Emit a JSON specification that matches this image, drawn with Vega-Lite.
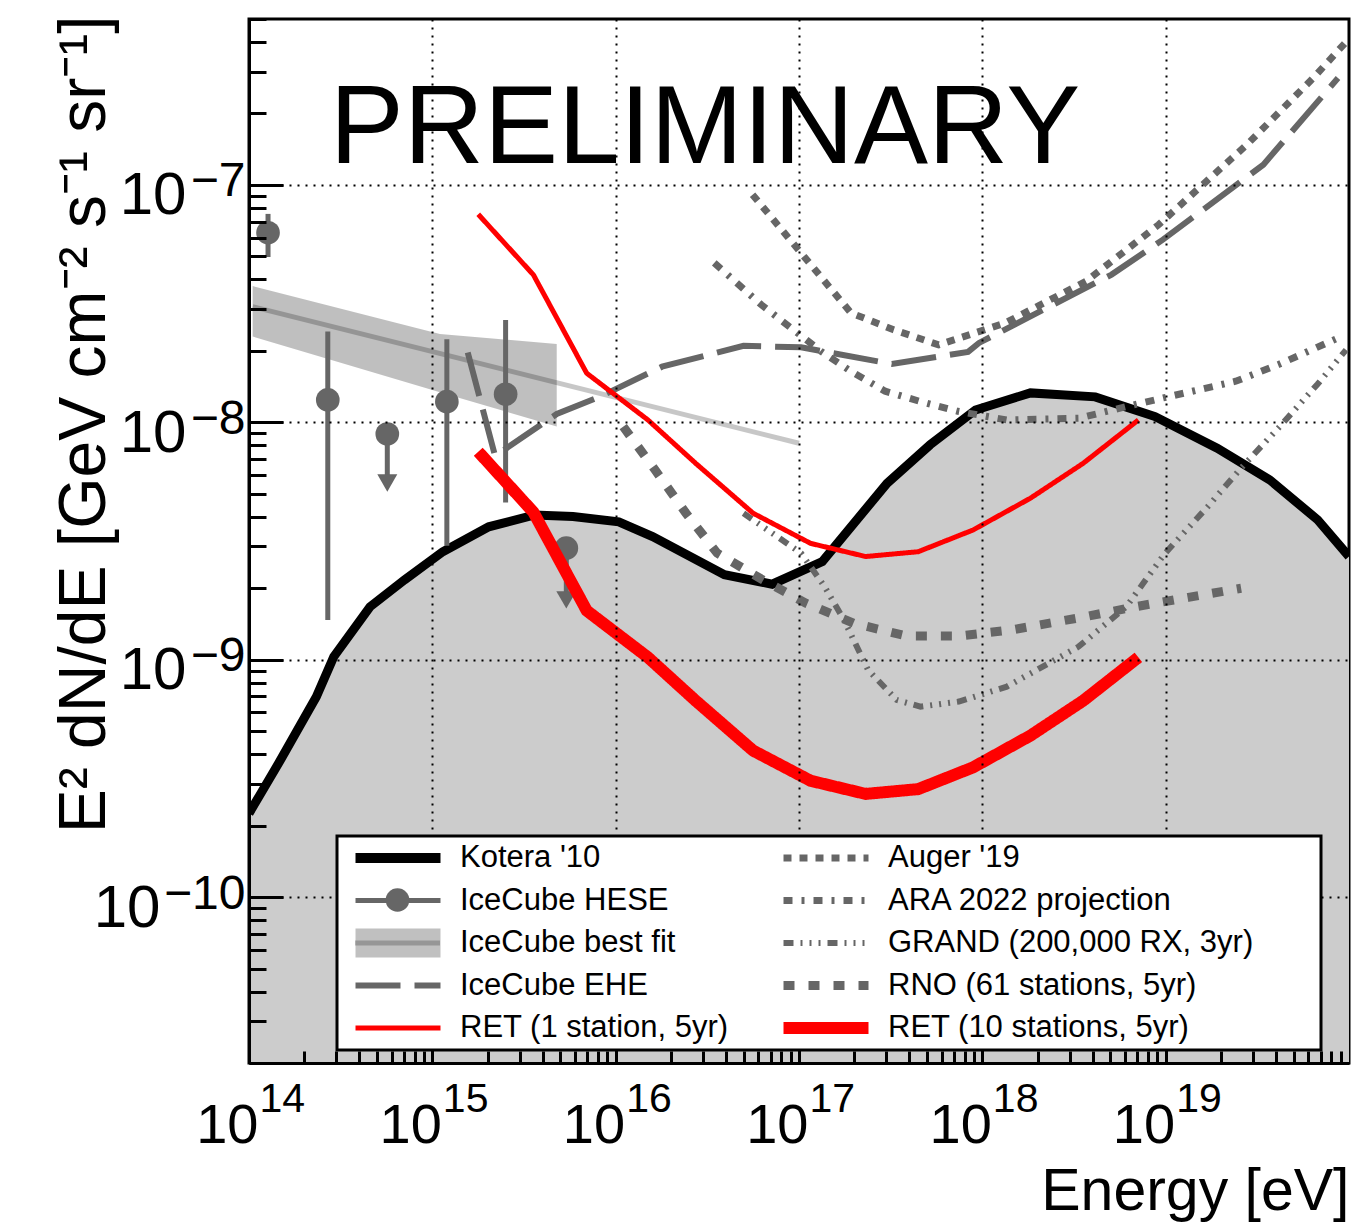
{
  "$schema": "https://vega.github.io/schema/vega-lite/v6.json",
  "width": 1100,
  "height": 1044,
  "autosize": {"type": "none"},
  "padding": {"left": 249, "top": 19, "right": 18, "bottom": 160},
  "background": "white",
  "config": {
    "font": "Liberation Sans",
    "view": {"stroke": "black", "strokeWidth": 3},
    "legend": {
      "orient": "none",
      "legendX": 88,
      "legendY": 817,
      "columns": 2,
      "symbolType": "stroke",
      "symbolSize": 7225,
      "symbolOpacity": 1,
      "clipHeight": 36,
      "rowPadding": 6.5,
      "columnPadding": 40,
      "labelFont": "Liberation Sans",
      "labelFontSize": 31,
      "labelColor": "black",
      "labelLimit": 600,
      "labelOffset": 5,
      "padding": 4,
      "strokeColor": "black",
      "fillColor": "white",
      "strokeWidth": 3,
      "titleOrient": "right",
      "titleFontSize": 2,
      "titlePadding": 64
    }
  },
  "resolve": {"axis": {"x": "independent", "y": "independent"}},
  "datasets": {
    "kotera": [
      {"E": 1e14, "F": 2.25e-10}, {"E": 1.45e14, "F": 3.66e-10}, {"E": 2.33e14, "F": 6.98e-10},
      {"E": 2.9e14, "F": 1.03e-9}, {"E": 4.57e14, "F": 1.67e-9}, {"E": 7.06e14, "F": 2.17e-9},
      {"E": 1.14e15, "F": 2.85e-9}, {"E": 2.03e15, "F": 3.63e-9}, {"E": 3.61e15, "F": 4.07e-9},
      {"E": 5.85e15, "F": 4.01e-9}, {"E": 1.04e16, "F": 3.81e-9}, {"E": 1.59e16, "F": 3.3e-9},
      {"E": 3.92e16, "F": 2.28e-9}, {"E": 7.14e16, "F": 2.08e-9}, {"E": 1.34e17, "F": 2.59e-9},
      {"E": 3.02e17, "F": 5.53e-9}, {"E": 5.19e17, "F": 8.04e-9}, {"E": 9.18e17, "F": 1.127e-8},
      {"E": 1.83e18, "F": 1.33e-8}, {"E": 4.13e18, "F": 1.28e-8}, {"E": 8.75e18, "F": 1.057e-8},
      {"E": 1.91e19, "F": 7.78e-9}, {"E": 3.71e19, "F": 5.71e-9}, {"E": 6.75e19, "F": 3.88e-9},
      {"E": 1e20, "F": 2.72e-9}
    ],
    "band": [
      {"E": 1.047e14, "lo": 2.296e-8, "hi": 3.75e-8},
      {"E": 1.1e15, "lo": 1.34e-8, "hi": 2.355e-8},
      {"E": 4.77e15, "lo": 9.59e-9, "hi": 2.138e-8}
    ],
    "fit": [
      {"s": "IceCube best fit", "E": 1.047e14, "F": 3.07e-8},
      {"s": "IceCube best fit", "E": 1e17, "F": 8.16e-9}
    ],
    "hese": [
      {"s": "IceCube HESE", "E": 1.27e14, "F": 6.29e-8, "lo": 4.97e-8, "hi": 7.55e-8, "ul": false},
      {"s": "IceCube HESE", "E": 2.69e14, "F": 1.243e-8, "lo": 1.47e-9, "hi": 2.41e-8, "ul": false},
      {"s": "IceCube HESE", "E": 5.68e14, "F": 8.93e-9, "lo": 5.55e-9, "hi": 8.93e-9, "ul": true},
      {"s": "IceCube HESE", "E": 1.2e15, "F": 1.222e-8, "lo": 3.02e-9, "hi": 2.24e-8, "ul": false},
      {"s": "IceCube HESE", "E": 2.51e15, "F": 1.313e-8, "lo": 4.59e-9, "hi": 2.7e-8, "ul": false},
      {"s": "IceCube HESE", "E": 5.38e15, "F": 2.95e-9, "lo": 1.785e-9, "hi": 2.95e-9, "ul": true}
    ],
    "gray": [
      {"s": "IceCube EHE", "E": 1.56e15, "F": 1.97e-8},
      {"s": "IceCube EHE", "E": 2.2e15, "F": 7.21e-9},
      {"s": "IceCube EHE", "E": 4.77e15, "F": 1.084e-8},
      {"s": "IceCube EHE", "E": 8.22e15, "F": 1.282e-8},
      {"s": "IceCube EHE", "E": 1.79e16, "F": 1.715e-8},
      {"s": "IceCube EHE", "E": 4.98e16, "F": 2.1e-8},
      {"s": "IceCube EHE", "E": 1.026e17, "F": 2.07e-8},
      {"s": "IceCube EHE", "E": 3.21e17, "F": 1.762e-8},
      {"s": "IceCube EHE", "E": 8.36e17, "F": 1.98e-8},
      {"s": "IceCube EHE", "E": 9.59e17, "F": 2.16e-8},
      {"s": "IceCube EHE", "E": 5.07e18, "F": 4.19e-8},
      {"s": "IceCube EHE", "E": 9.66e18, "F": 5.88e-8},
      {"s": "IceCube EHE", "E": 3.41e19, "F": 1.217e-7},
      {"s": "IceCube EHE", "E": 8.71e19, "F": 2.82e-7},
      {"s": "Auger '19", "E": 5.58e16, "F": 9.1e-8},
      {"s": "Auger '19", "E": 1.92e17, "F": 2.89e-8},
      {"s": "Auger '19", "E": 3.28e17, "F": 2.455e-8},
      {"s": "Auger '19", "E": 5.77e17, "F": 2.12e-8},
      {"s": "Auger '19", "E": 1.33e18, "F": 2.62e-8},
      {"s": "Auger '19", "E": 3.68e18, "F": 3.93e-8},
      {"s": "Auger '19", "E": 9.16e18, "F": 6.8e-8},
      {"s": "Auger '19", "E": 2.77e19, "F": 1.477e-7},
      {"s": "Auger '19", "E": 6.38e19, "F": 2.82e-7},
      {"s": "Auger '19", "E": 9.51e19, "F": 3.96e-7},
      {"s": "ARA 2022 projection", "E": 3.45e16, "F": 4.69e-8},
      {"s": "ARA 2022 projection", "E": 6.22e16, "F": 3.13e-8},
      {"s": "ARA 2022 projection", "E": 1.32e17, "F": 1.99e-8},
      {"s": "ARA 2022 projection", "E": 1.92e17, "F": 1.64e-8},
      {"s": "ARA 2022 projection", "E": 2.95e17, "F": 1.352e-8},
      {"s": "ARA 2022 projection", "E": 4.53e17, "F": 1.227e-8},
      {"s": "ARA 2022 projection", "E": 7.35e17, "F": 1.113e-8},
      {"s": "ARA 2022 projection", "E": 1.36e18, "F": 1.023e-8},
      {"s": "ARA 2022 projection", "E": 3.35e18, "F": 1.04e-8},
      {"s": "ARA 2022 projection", "E": 6.1e18, "F": 1.164e-8},
      {"s": "ARA 2022 projection", "E": 9.66e18, "F": 1.266e-8},
      {"s": "ARA 2022 projection", "E": 2.41e19, "F": 1.489e-8},
      {"s": "ARA 2022 projection", "E": 4.12e19, "F": 1.75e-8},
      {"s": "ARA 2022 projection", "E": 8.71e19, "F": 2.265e-8},
      {"s": "GRAND (200,000 RX, 3yr)", "E": 4.98e16, "F": 4.14e-9},
      {"s": "GRAND (200,000 RX, 3yr)", "E": 1.026e17, "F": 2.81e-9},
      {"s": "GRAND (200,000 RX, 3yr)", "E": 1.38e17, "F": 2.03e-9},
      {"s": "GRAND (200,000 RX, 3yr)", "E": 1.76e17, "F": 1.47e-9},
      {"s": "GRAND (200,000 RX, 3yr)", "E": 2.38e17, "F": 9.05e-10},
      {"s": "GRAND (200,000 RX, 3yr)", "E": 3.41e17, "F": 6.77e-10},
      {"s": "GRAND (200,000 RX, 3yr)", "E": 4.6e17, "F": 6.34e-10},
      {"s": "GRAND (200,000 RX, 3yr)", "E": 7.45e17, "F": 6.66e-10},
      {"s": "GRAND (200,000 RX, 3yr)", "E": 1.36e18, "F": 7.7e-10},
      {"s": "GRAND (200,000 RX, 3yr)", "E": 3.35e18, "F": 1.135e-9},
      {"s": "GRAND (200,000 RX, 3yr)", "E": 6.1e18, "F": 1.673e-9},
      {"s": "GRAND (200,000 RX, 3yr)", "E": 9.86e18, "F": 2.79e-9},
      {"s": "GRAND (200,000 RX, 3yr)", "E": 1.69e19, "F": 4.4e-9},
      {"s": "GRAND (200,000 RX, 3yr)", "E": 2.58e19, "F": 6.42e-9},
      {"s": "GRAND (200,000 RX, 3yr)", "E": 4.17e19, "F": 9.56e-9},
      {"s": "GRAND (200,000 RX, 3yr)", "E": 6.75e19, "F": 1.45e-8},
      {"s": "GRAND (200,000 RX, 3yr)", "E": 9.64e19, "F": 2.02e-8},
      {"s": "RNO (61 stations, 5yr)", "E": 1.1e16, "F": 9.59e-9},
      {"s": "RNO (61 stations, 5yr)", "E": 1.64e16, "F": 6.3e-9},
      {"s": "RNO (61 stations, 5yr)", "E": 2.42e16, "F": 4.14e-9},
      {"s": "RNO (61 stations, 5yr)", "E": 3.58e16, "F": 2.81e-9},
      {"s": "RNO (61 stations, 5yr)", "E": 6.34e16, "F": 2.17e-9},
      {"s": "RNO (61 stations, 5yr)", "E": 1.09e17, "F": 1.73e-9},
      {"s": "RNO (61 stations, 5yr)", "E": 1.99e17, "F": 1.424e-9},
      {"s": "RNO (61 stations, 5yr)", "E": 3.84e17, "F": 1.259e-9},
      {"s": "RNO (61 stations, 5yr)", "E": 7.45e17, "F": 1.259e-9},
      {"s": "RNO (61 stations, 5yr)", "E": 1.44e18, "F": 1.334e-9},
      {"s": "RNO (61 stations, 5yr)", "E": 3.66e18, "F": 1.518e-9},
      {"s": "RNO (61 stations, 5yr)", "E": 6.88e18, "F": 1.673e-9},
      {"s": "RNO (61 stations, 5yr)", "E": 1.33e19, "F": 1.83e-9},
      {"s": "RNO (61 stations, 5yr)", "E": 2.58e19, "F": 2.0e-9}
    ],
    "red": [
      {"s": "RET (1 station, 5yr)", "E": 1.78e15, "F": 7.52e-8},
      {"s": "RET (1 station, 5yr)", "E": 3.56e15, "F": 4.18e-8},
      {"s": "RET (1 station, 5yr)", "E": 6.95e15, "F": 1.61e-8},
      {"s": "RET (1 station, 5yr)", "E": 1.5e16, "F": 1.023e-8},
      {"s": "RET (1 station, 5yr)", "E": 2.73e16, "F": 6.72e-9},
      {"s": "RET (1 station, 5yr)", "E": 5.62e16, "F": 4.14e-9},
      {"s": "RET (1 station, 5yr)", "E": 1.157e17, "F": 3.09e-9},
      {"s": "RET (1 station, 5yr)", "E": 2.31e17, "F": 2.72e-9},
      {"s": "RET (1 station, 5yr)", "E": 4.47e17, "F": 2.85e-9},
      {"s": "RET (1 station, 5yr)", "E": 8.91e17, "F": 3.52e-9},
      {"s": "RET (1 station, 5yr)", "E": 1.83e18, "F": 4.79e-9},
      {"s": "RET (1 station, 5yr)", "E": 3.55e18, "F": 6.72e-9},
      {"s": "RET (1 station, 5yr)", "E": 7.1e18, "F": 1.023e-8},
      {"s": "RET (10 stations, 5yr)", "E": 1.78e15, "F": 7.52e-9},
      {"s": "RET (10 stations, 5yr)", "E": 3.56e15, "F": 4.18e-9},
      {"s": "RET (10 stations, 5yr)", "E": 6.95e15, "F": 1.61e-9},
      {"s": "RET (10 stations, 5yr)", "E": 1.5e16, "F": 1.023e-9},
      {"s": "RET (10 stations, 5yr)", "E": 2.73e16, "F": 6.72e-10},
      {"s": "RET (10 stations, 5yr)", "E": 5.62e16, "F": 4.14e-10},
      {"s": "RET (10 stations, 5yr)", "E": 1.157e17, "F": 3.09e-10},
      {"s": "RET (10 stations, 5yr)", "E": 2.31e17, "F": 2.72e-10},
      {"s": "RET (10 stations, 5yr)", "E": 4.47e17, "F": 2.85e-10},
      {"s": "RET (10 stations, 5yr)", "E": 8.91e17, "F": 3.52e-10},
      {"s": "RET (10 stations, 5yr)", "E": 1.83e18, "F": 4.79e-10},
      {"s": "RET (10 stations, 5yr)", "E": 3.55e18, "F": 6.72e-10},
      {"s": "RET (10 stations, 5yr)", "E": 7.1e18, "F": 1.023e-9}
    ]
  },
  "layer": [
    {
      "data": {"name": "kotera"},
      "mark": {"type": "area", "fill": "#cccccc", "clip": true},
      "encoding": {
        "x": {
          "field": "E", "type": "quantitative",
          "scale": {"type": "log", "domain": [1e14, 1e20], "nice": false},
          "axis": {
            "orient": "bottom",
            "values": [1e14, 1e15, 1e16, 1e17, 1e18, 1e19],
            "labelExpr": "'10'",
            "tickSize": -24,
            "tickWidth": 3,
            "tickColor": "black",
            "grid": true,
            "gridColor": "black",
            "gridDash": [2, 6],
            "gridWidth": 2,
            "domain": true,
            "domainColor": "black",
            "domainWidth": 3,
            "labelFont": "Liberation Sans",
            "labelFontSize": 56,
            "labelColor": "black",
            "labelAlign": "right",
            "labelOffset": 9,
            "labelBaseline": "alphabetic",
            "labelPadding": 103,
            "labelOverlap": false,
            "labelFlush": false,
            "labelBound": false,
            "title": "Energy [eV]",
            "titleFont": "Liberation Sans",
            "titleFontSize": 59,
            "titleFontWeight": "normal",
            "titleColor": "black",
            "titleX": 1100,
            "titleY": 146.5,
            "titleAlign": "right",
            "titleBaseline": "alphabetic",
            "zindex": 1
          }
        },
        "y": {
          "field": "F", "type": "quantitative",
          "scale": {"type": "log", "domain": [2e-11, 5e-7], "nice": false},
          "axis": {
            "orient": "left",
            "values": [1e-10, 1e-9, 1e-8, 1e-7],
            "labelExpr": "datum.value < 5e-10 ? '' : '10'",
            "tickSize": -34,
            "tickWidth": 3,
            "tickColor": "black",
            "grid": true,
            "gridColor": "black",
            "gridDash": [2, 6],
            "gridWidth": 2,
            "domain": true,
            "domainColor": "black",
            "domainWidth": 3,
            "labelFont": "Liberation Sans",
            "labelFontSize": 60,
            "labelColor": "black",
            "labelAlign": "right",
            "labelBaseline": "alphabetic",
            "labelOffset": 29,
            "labelPadding": 97,
            "labelOverlap": false,
            "labelFlush": false,
            "labelBound": false,
            "title": "E² dN/dE [GeV cm⁻² s⁻¹ sr⁻¹]",
            "titleFont": "Liberation Sans",
            "titleFontSize": 66,
            "titleFontWeight": "normal",
            "titleColor": "black",
            "titleAngle": -90,
            "titleX": -145,
            "titleY": -4,
            "titleAlign": "right",
            "titleBaseline": "alphabetic",
            "zindex": 1
          }
        },
        "y2": {"datum": 2e-11}
      }
    },
    {
      "data": {"name": "kotera"},
      "mark": {"type": "line", "stroke": "black", "strokeWidth": 9, "clip": true},
      "encoding": {
        "x": {
          "field": "E", "type": "quantitative",
          "scale": {"type": "log", "domain": [1e14, 1e20], "nice": false},
          "axis": {
            "orient": "bottom",
            "values": [2e14, 3e14, 4e14, 5e14, 6e14, 7e14, 8e14, 9e14,
                       2e15, 3e15, 4e15, 5e15, 6e15, 7e15, 8e15, 9e15,
                       2e16, 3e16, 4e16, 5e16, 6e16, 7e16, 8e16, 9e16,
                       2e17, 3e17, 4e17, 5e17, 6e17, 7e17, 8e17, 9e17,
                       2e18, 3e18, 4e18, 5e18, 6e18, 7e18, 8e18, 9e18,
                       2e19, 3e19, 4e19, 5e19, 6e19, 7e19, 8e19, 9e19],
            "labels": false,
            "grid": false,
            "domain": false,
            "title": null,
            "tickSize": -12,
            "tickWidth": 3,
            "tickColor": "black",
            "zindex": 1
          }
        },
        "y": {
          "field": "F", "type": "quantitative",
          "scale": {"type": "log", "domain": [2e-11, 5e-7], "nice": false},
          "axis": {
            "orient": "left",
            "values": [2e-11, 3e-11, 4e-11, 5e-11, 6e-11, 7e-11, 8e-11, 9e-11,
                       2e-10, 3e-10, 4e-10, 5e-10, 6e-10, 7e-10, 8e-10, 9e-10,
                       2e-9, 3e-9, 4e-9, 5e-9, 6e-9, 7e-9, 8e-9, 9e-9,
                       2e-8, 3e-8, 4e-8, 5e-8, 6e-8, 7e-8, 8e-8, 9e-8,
                       2e-7, 3e-7, 4e-7, 5e-7],
            "labels": false,
            "grid": false,
            "domain": false,
            "title": null,
            "tickSize": -17,
            "tickWidth": 3,
            "tickColor": "black",
            "zindex": 1
          }
        }
      }
    },
    {
      "data": {"name": "band"},
      "mark": {"type": "area", "fill": "black", "fillOpacity": 0.25, "clip": true},
      "encoding": {
        "x": {
          "field": "E", "type": "quantitative",
          "scale": {"type": "log", "domain": [1e14, 1e20], "nice": false},
          "axis": {
            "orient": "bottom",
            "values": [1e14, 1e15, 1e16, 1e17, 1e18, 1e19],
            "labelExpr": "format(round(log(datum.value)/LN10), 'd')",
            "ticks": false,
            "tickSize": 0,
            "grid": false,
            "domain": false,
            "title": null,
            "labelFont": "Liberation Sans",
            "labelFontSize": 41,
            "labelColor": "black",
            "labelAlign": "left",
            "labelOffset": 10,
            "labelBaseline": "alphabetic",
            "labelPadding": 48,
            "labelOverlap": false,
            "labelFlush": false,
            "labelBound": false,
            "zindex": 1
          }
        },
        "y": {
          "field": "lo", "type": "quantitative",
          "scale": {"type": "log", "domain": [2e-11, 5e-7], "nice": false},
          "axis": {
            "orient": "left",
            "values": [1e-10, 1e-9, 1e-8, 1e-7],
            "labelExpr": "'−' + format(-round(log(datum.value)/LN10), 'd')",
            "ticks": false,
            "tickSize": 0,
            "grid": false,
            "domain": false,
            "title": null,
            "labelFont": "Liberation Sans",
            "labelFontSize": 48,
            "labelColor": "black",
            "labelAlign": "right",
            "labelOffset": 11,
            "labelBaseline": "alphabetic",
            "labelPadding": 4,
            "labelOverlap": false,
            "labelFlush": false,
            "labelBound": false,
            "zindex": 1
          }
        },
        "y2": {"field": "hi"}
      }
    },
    {
      "data": {"name": "fit"},
      "mark": {"type": "line", "stroke": "black", "strokeWidth": 5, "clip": true},
      "encoding": {
        "x": {"field": "E", "type": "quantitative", "scale": {"type": "log", "domain": [1e14, 1e20], "nice": false}, "axis": null},
        "y": {
          "field": "F", "type": "quantitative",
          "scale": {"type": "log", "domain": [2e-11, 5e-7], "nice": false},
          "axis": {
            "orient": "left",
            "values": [1e-10],
            "labelExpr": "'10'",
            "ticks": false,
            "tickSize": 0,
            "grid": false,
            "domain": false,
            "title": null,
            "labelFont": "Liberation Sans",
            "labelFontSize": 60,
            "labelColor": "black",
            "labelAlign": "right",
            "labelOffset": 29,
            "labelBaseline": "alphabetic",
            "labelPadding": 89,
            "labelOverlap": false,
            "labelFlush": false,
            "labelBound": false,
            "zindex": 1
          }
        },
        "opacity": {
          "field": "s", "type": "nominal",
          "scale": {"type": "ordinal", "domain": ["IceCube best fit"], "range": [0.22]},
          "legend": {
            "title": null, "orient": "none", "legendX": 103.5, "legendY": 906,
            "symbolType": "stroke", "symbolSize": 7225, "symbolStrokeColor": "black", "symbolStrokeWidth": 5,
            "labelExpr": "''", "padding": 0, "fillColor": "transparent", "strokeColor": "transparent", "zindex": 3
          }
        }
      }
    },
    {
      "data": {"name": "hese"},
      "mark": {"type": "rule", "stroke": "#666666", "strokeWidth": 5},
      "encoding": {
        "x": {"field": "E", "type": "quantitative", "scale": {"type": "log", "domain": [1e14, 1e20], "nice": false}, "axis": null},
        "y": {"field": "lo", "type": "quantitative", "scale": {"type": "log", "domain": [2e-11, 5e-7], "nice": false}, "axis": null},
        "y2": {"field": "hi"}
      }
    },
    {
      "data": {"name": "hese"},
      "mark": {"type": "point", "filled": true, "size": 560, "color": "#666666", "opacity": 1},
      "encoding": {
        "x": {"field": "E", "type": "quantitative", "scale": {"type": "log", "domain": [1e14, 1e20], "nice": false}, "axis": null},
        "y": {"field": "F", "type": "quantitative", "scale": {"type": "log", "domain": [2e-11, 5e-7], "nice": false}, "axis": null},
        "shape": {
          "field": "s", "type": "nominal",
          "scale": {"domain": ["IceCube HESE"], "range": ["circle"]},
          "legend": {
            "title": null, "orient": "none", "legendX": 133, "legendY": 863,
            "symbolType": "circle", "symbolSize": 560, "symbolFillColor": "#666666", "symbolStrokeColor": "#666666", "symbolStrokeWidth": 0,
            "labelExpr": "''", "padding": 0, "fillColor": "transparent", "strokeColor": "transparent", "zindex": 3
          }
        }
      }
    },
    {
      "data": {"name": "hese"},
      "transform": [{"filter": "datum.ul"}],
      "mark": {"type": "point", "shape": "triangle-down", "filled": true, "size": 400, "color": "#666666", "opacity": 1},
      "encoding": {
        "x": {"field": "E", "type": "quantitative", "scale": {"type": "log", "domain": [1e14, 1e20], "nice": false}, "axis": null},
        "y": {"field": "lo", "type": "quantitative", "scale": {"type": "log", "domain": [2e-11, 5e-7], "nice": false}, "axis": null}
      }
    },
    {
      "data": {"name": "gray"},
      "mark": {"type": "line", "clip": true},
      "encoding": {
        "x": {"field": "E", "type": "quantitative", "scale": {"type": "log", "domain": [1e14, 1e20], "nice": false}, "axis": null},
        "y": {"field": "F", "type": "quantitative", "scale": {"type": "log", "domain": [2e-11, 5e-7], "nice": false}, "axis": null},
        "color": {
          "field": "s", "type": "nominal",
          "scale": {"domain": ["Kotera '10", "IceCube HESE", "IceCube best fit", "IceCube EHE", "RET (1 station, 5yr)", "Auger '19", "ARA 2022 projection", "GRAND (200,000 RX, 3yr)", "RNO (61 stations, 5yr)", "RET (10 stations, 5yr)"],
                    "range": ["black", "#666666", "#c0c0c0", "#666666", "red", "#666666", "#666666", "#666666", "#666666", "red"]},
          "legend": {"title": " ", "zindex": 2}
        },
        "strokeDash": {
          "field": "s", "type": "nominal",
          "scale": {"domain": ["Kotera '10", "IceCube HESE", "IceCube best fit", "IceCube EHE", "RET (1 station, 5yr)", "Auger '19", "ARA 2022 projection", "GRAND (200,000 RX, 3yr)", "RNO (61 stations, 5yr)", "RET (10 stations, 5yr)"],
                    "range": [[1, 0], [1, 0], [1, 0], [45, 14], [1, 0], [8, 8], [9, 9, 3, 9], [10, 7, 2, 7, 2, 7, 2, 7], [11, 14], [1, 0]]},
          "legend": {"title": " ", "zindex": 2}
        },
        "strokeWidth": {
          "field": "s", "type": "nominal",
          "scale": {"type": "ordinal", "domain": ["Kotera '10", "IceCube HESE", "IceCube best fit", "IceCube EHE", "RET (1 station, 5yr)", "Auger '19", "ARA 2022 projection", "GRAND (200,000 RX, 3yr)", "RNO (61 stations, 5yr)", "RET (10 stations, 5yr)"],
                    "range": [10, 5, 29, 6, 5, 7, 7, 6, 9, 12]},
          "legend": {"title": " ", "zindex": 2}
        }
      }
    },
    {
      "data": {"name": "red"},
      "mark": {"type": "line", "clip": true},
      "encoding": {
        "x": {"field": "E", "type": "quantitative", "scale": {"type": "log", "domain": [1e14, 1e20], "nice": false}, "axis": null},
        "y": {"field": "F", "type": "quantitative", "scale": {"type": "log", "domain": [2e-11, 5e-7], "nice": false}, "axis": null},
        "color": {
          "field": "s", "type": "nominal",
          "scale": {"domain": ["Kotera '10", "IceCube HESE", "IceCube best fit", "IceCube EHE", "RET (1 station, 5yr)", "Auger '19", "ARA 2022 projection", "GRAND (200,000 RX, 3yr)", "RNO (61 stations, 5yr)", "RET (10 stations, 5yr)"],
                    "range": ["black", "#666666", "#c0c0c0", "#666666", "red", "#666666", "#666666", "#666666", "#666666", "red"]},
          "legend": {"title": " ", "zindex": 2}
        },
        "strokeDash": {
          "field": "s", "type": "nominal",
          "scale": {"domain": ["Kotera '10", "IceCube HESE", "IceCube best fit", "IceCube EHE", "RET (1 station, 5yr)", "Auger '19", "ARA 2022 projection", "GRAND (200,000 RX, 3yr)", "RNO (61 stations, 5yr)", "RET (10 stations, 5yr)"],
                    "range": [[1, 0], [1, 0], [1, 0], [45, 14], [1, 0], [8, 8], [9, 9, 3, 9], [10, 7, 2, 7, 2, 7, 2, 7], [11, 14], [1, 0]]},
          "legend": {"title": " ", "zindex": 2}
        },
        "strokeWidth": {
          "field": "s", "type": "nominal",
          "scale": {"type": "ordinal", "domain": ["Kotera '10", "IceCube HESE", "IceCube best fit", "IceCube EHE", "RET (1 station, 5yr)", "Auger '19", "ARA 2022 projection", "GRAND (200,000 RX, 3yr)", "RNO (61 stations, 5yr)", "RET (10 stations, 5yr)"],
                    "range": [10, 5, 29, 6, 5, 7, 7, 6, 9, 12]},
          "legend": {"title": " ", "zindex": 2}
        }
      }
    },
    {
      "data": {"values": [{"label": "PRELIMINARY"}]},
      "mark": {"type": "text", "font": "Liberation Sans", "fontSize": 111, "align": "center", "baseline": "alphabetic", "color": "black"},
      "encoding": {
        "text": {"field": "label", "type": "nominal"},
        "x": {"datum": 3.07e16, "type": "quantitative", "scale": {"type": "log", "domain": [1e14, 1e20], "nice": false}, "axis": null},
        "y": {"datum": 1.237e-7, "type": "quantitative", "scale": {"type": "log", "domain": [2e-11, 5e-7], "nice": false}, "axis": null}
      }
    }
  ]
}
